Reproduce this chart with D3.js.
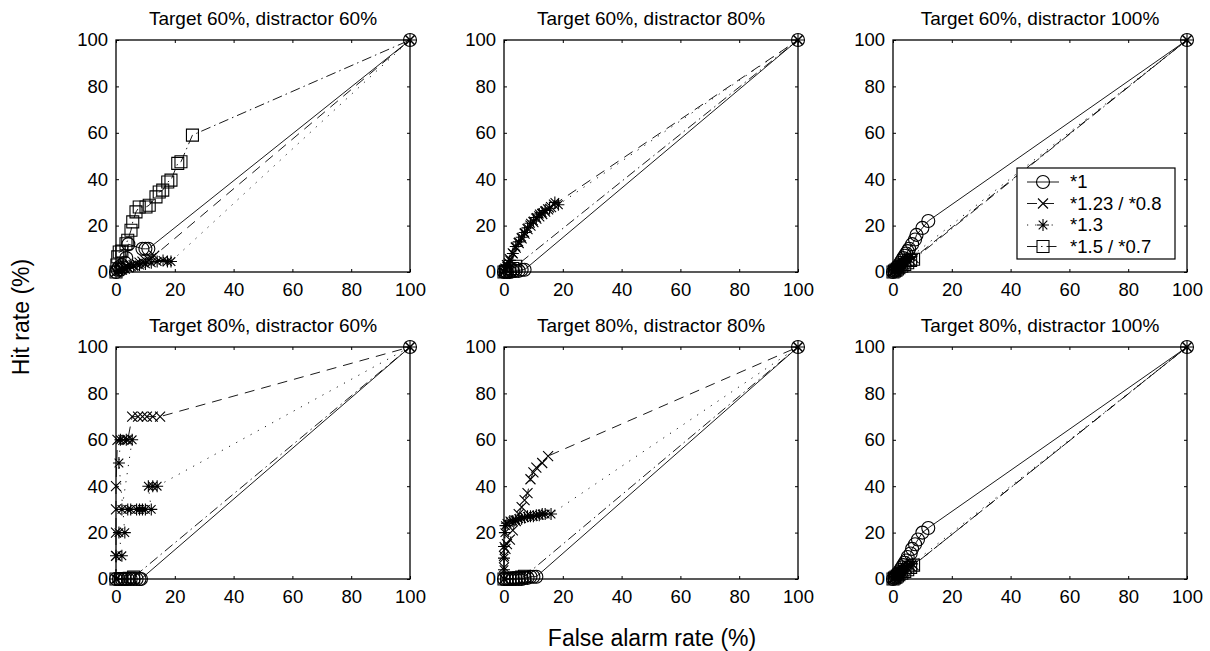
<!DOCTYPE html>
<html>
<head>
<meta charset="utf-8">
<script src="https://cdn.jsdelivr.net/npm/d3@7"></script>
<style>
  body { margin: 0; background: #fff; }
  svg { display: block; font-family: "Liberation Sans", Arial, Helvetica, sans-serif; }
</style>
</head>
<body>
<svg width="1210" height="651"></svg>
<script>
//panel titles, series names and ticks
var panelTitles = ["Target 60%, distractor 60%", "Target 60%, distractor 80%", "Target 60%, distractor 100%",
                   "Target 80%, distractor 60%", "Target 80%, distractor 80%", "Target 80%, distractor 100%"];
var seriesNames = ["*1", "*1.23 / *0.8", "*1.3", "*1.5 / *0.7"];
var axisTicks = [0, 20, 40, 60, 80, 100];

//each panel: [false alarm %, hit %] per series (circle, cross, star, square)
var t60d60_o = [[0,0],[0.5,1],[1,2],[1.5,1],[2,3],[2.5,2],[3,4],[3.5,6],[4.2,12],[9,10],[10,10],[11,10],[100,100]];
var t60d60_x = [[0,0],[1,0.5],[2,1],[3,1.5],[4,2],[5,2.5],[6,3],[7,3.5],[8,4],[9,4.5],[10,5],[11,5.5],[12,6],[13,7],[100,100]];
var t60d60_s = [[0,0],[1,0.5],[2,1],[3,1.5],[4,2],[6,2.5],[8,3],[10,3.5],[12,4],[14,4.5],[16,5],[17.5,4.5],[18.7,4.5],[100,100]];
var t60d60_q = [[0,0],[0.3,3],[0.6,6.5],[1.1,8.6],[2,9],[3.4,12.2],[4,13.7],[5.1,18],[5.7,21.6],[6.8,25.9],[7.9,28],
                [10.2,28],[11.3,28.8],[13.6,32.4],[14.7,34.5],[15.9,35.3],[17.6,38.8],[18.7,39.6],[21,46.8],[22.1,47.5],[26,59],[100,100]];

var t60d80_o = [[0,0],[1,0],[2,0],[3,0.3],[4,0.5],[5,0.5],[6,1],[7,1],[100,100]];
var t60d80_x = [[0,0],[0.5,1.5],[1,3],[2,5.5],[3,8],[4,10.5],[5,12.5],[6,14.5],[7,16.5],[8,18.5],[9,20],[10,21.5],
                [11,23],[12,24],[13,25],[14,26],[15,27],[16,28],[17,29],[100,100]];
var t60d80_s = [[0,0],[0.5,1],[1,2.5],[1.5,4],[2,5],[3,8],[4,11],[5,13],[6,15],[7,17],[8,19],[9,21],[10,22],[11,23.5],
                [12,25],[13,25.5],[14,26.5],[15.5,27.5],[17.3,30],[18.5,29],[100,100]];
var t60d80_q = [[0,0],[0.5,0.3],[1,0.5],[2,1],[3,1.5],[4,2.5],[100,100]];

var t60d100_o = [[0,0],[0.5,0.5],[1,1],[1.5,2],[2,3],[2.5,4],[3,5],[3.5,6],[4,7],[4.5,8],[5,9],[5.5,10],[6.5,12],[7.5,14],[8,16],[10,19],[12,22],[100,100]];
var t60d100_x = [[0,0],[0.5,0.5],[1,1],[1.5,1.5],[2,2],[2.5,2.5],[3,3],[3.5,3.5],[4,4],[5,4.5],[6,5],[7,6],[100,100]];
var t60d100_s = [[0,0],[0.5,0.5],[1,1],[1.5,1.5],[2,2],[2.5,3],[3,3.5],[3.5,4],[4,5],[4.5,5.5],[5,6],[6,6.5],[100,100]];
var t60d100_q = [[0,0],[0.5,0.4],[1,0.8],[1.5,1.3],[2,1.8],[3,2.5],[4,3.3],[5,4],[6,5],[7,5.5],[100,100]];

var t80d60_o = [[0,0],[1,0],[2,0],[3,0],[4,0],[5,0],[6,0],[7,0],[8,0],[8.5,0],[100,100]];
var t80d60_x = [[0,0],[0,10],[0,20],[0,30],[0,40],[0.5,60],[2.5,60],[4,60],[5.5,70],[7.5,70],[9,70],[10.5,70],[12.5,70],[15,70],[100,100]];
var t80d60_s = [[0,0],[0,10],[2,10],[1,20],[3,20],[1,50],[1.5,60],[3.5,60],[5.5,60],[2,30],[4,30],[5,30],[7,30],[8,30],
                [9,30],[10,30],[12,30],[11,40],[12.5,40],[14,40],[100,100]];
var t80d60_q = [[0,0],[1.5,0],[3,0],[4.5,0.3],[6,0.8],[100,100]];

var t80d80_o = [[0,0],[1,0],[2,0],[3,0],[4,0],[5,0],[6,0],[7,0.5],[8,0.5],[9,1],[10,1],[11,1],[100,100]];
var t80d80_x = [[0,0],[0,5],[0,10],[0.5,13],[1,15],[2,17],[3,21],[4,25],[5,28],[6,31],[7,34],[8,37],[9,43],[10,46],
                [11,48],[13,50],[15,53],[100,100]];
var t80d80_s = [[0,0],[0,4],[0,9],[0,14],[0.3,20],[0.5,23],[1,24],[2,25],[3,25],[4,25.5],[5,26],[6,26],[7,26.5],[8,27],
                [9,27],[10,27],[11,27.5],[12,27.5],[13,28],[14,28],[16,28],[100,100]];
var t80d80_q = [[0,0],[1,0],[2,0],[3,0.3],[4,0.5],[5,0.5],[6,0.8],[7,1.2],[100,100]];

var t80d100_o = [[0,0],[0.5,0.5],[1,1],[1.5,2],[2,3],[2.5,4],[3,5],[3.5,6],[4,7],[4.5,8],[5,9.5],[6,11],[6.5,13],[7.5,15],[8.5,17],[10,20],[12,22],[100,100]];
var t80d100_x = [[0,0],[0.5,0.5],[1,1],[1.5,1.5],[2,2],[2.5,2.5],[3,3],[3.5,3.5],[4,4],[5,4.5],[6,5.5],[7,6],[100,100]];
var t80d100_s = [[0,0],[0.5,0.5],[1,1],[1.5,1.5],[2,2],[2.5,3],[3,3.5],[3.5,4],[4,5],[4.5,5.5],[5,6],[6.5,6.5],[100,100]];
var t80d100_q = [[0,0],[0.5,0.4],[1,0.8],[1.5,1.3],[2,1.8],[3,2.5],[4,3.3],[5,4],[6,5],[7,6],[100,100]];

var panelData = [
  [t60d60_o, t60d60_x, t60d60_s, t60d60_q],
  [t60d80_o, t60d80_x, t60d80_s, t60d80_q],
  [t60d100_o, t60d100_x, t60d100_s, t60d100_q],
  [t80d60_o, t80d60_x, t80d60_s, t80d60_q],
  [t80d80_o, t80d80_x, t80d80_s, t80d80_q],
  [t80d100_o, t80d100_x, t80d100_s, t80d100_q]
];

//layout of the 2x3 grid
var panelLeft = [116, 504, 893],
    panelTop = [40, 347],
    width = 294,
    height = 232;

var lineDash = [null, "10,7", "1.2,7", "10,4,1.5,4"];
var markers = ["circle", "cross", "star", "square"];

function markerPath(type) {
  if (type == "circle") {
    var r = 6.5;
    return "M" + (-r) + ",0A" + r + "," + r + " 0 1,0 " + r + ",0A" + r + "," + r + " 0 1,0 " + (-r) + ",0";
  }
  if (type == "cross") {
    var c = 5;
    return "M" + (-c) + "," + (-c) + "L" + c + "," + c + "M" + (-c) + "," + c + "L" + c + "," + (-c);
  }
  if (type == "star") {
    var s = 6, a = 4.3;
    return "M" + (-s) + ",0H" + s + "M0," + (-s) + "V" + s +
           "M" + (-a) + "," + (-a) + "L" + a + "," + a + "M" + (-a) + "," + a + "L" + a + "," + (-a);
  }
  var q = 6;
  return "M" + (-q) + "," + (-q) + "H" + q + "V" + q + "H" + (-q) + "Z";
}

var svg = d3.select("svg");

var x = d3.scaleLinear().domain([0, 100]).range([0, width]);
var y = d3.scaleLinear().domain([0, 100]).range([height, 0]);

var line = d3.line()
  .x(function(d) { return x(d[0]); })
  .y(function(d) { return y(d[1]); });

panelData.forEach(function(series, p) {
  var g = svg.append("g")
    .attr("transform", "translate(" + panelLeft[p % 3] + "," + panelTop[Math.floor(p / 3)] + ")");

  //axes with inward ticks on all four sides
  var bottom = g.append("g")
    .attr("transform", "translate(0," + height + ")")
    .call(d3.axisBottom(x).tickValues(axisTicks).tickSize(-3).tickSizeOuter(0).tickPadding(11));
  var left = g.append("g")
    .call(d3.axisLeft(y).tickValues(axisTicks).tickSize(-3).tickSizeOuter(0).tickPadding(8));
  var top = g.append("g")
    .call(d3.axisTop(x).tickValues(axisTicks).tickSize(-3).tickSizeOuter(0).tickFormat(""));
  var right = g.append("g")
    .attr("transform", "translate(" + width + ",0)")
    .call(d3.axisRight(y).tickValues(axisTicks).tickSize(-3).tickSizeOuter(0).tickFormat(""));

  [bottom, left, top, right].forEach(function(a) {
    a.select(".domain").remove();
    a.attr("font-family", null).attr("font-size", null);
    a.selectAll("text").style("font-size", "18.5px").attr("fill", "#000");
  });

  g.append("rect")
    .attr("width", width)
    .attr("height", height)
    .attr("fill", "none")
    .attr("stroke", "#000")
    .attr("stroke-width", 1.3);

  //series lines then markers
  series.forEach(function(pts, i) {
    g.append("path")
      .datum(pts)
      .attr("d", line)
      .attr("fill", "none")
      .attr("stroke", "#000")
      .attr("stroke-width", 0.9)
      .attr("stroke-dasharray", lineDash[i]);

    //square marker is not drawn at the (100,100) end point
    var shown = markers[i] == "square" ? pts.slice(0, -1) : pts;
    g.selectAll(".m" + i)
      .data(shown)
      .enter().append("path")
      .attr("class", "m" + i)
      .attr("transform", function(d) { return "translate(" + x(d[0]) + "," + y(d[1]) + ")"; })
      .attr("d", markerPath(markers[i]))
      .attr("fill", "none")
      .attr("stroke", "#000")
      .attr("stroke-width", 1.1);
  });

  g.append("text")
    .attr("x", width / 2)
    .attr("y", -15)
    .attr("text-anchor", "middle")
    .style("font-size", "19px")
    .text(panelTitles[p]);

  //legend sits in the third panel
  if (p == 2) {
    var lg = g.append("g").attr("transform", "translate(124,128)");
    lg.append("rect")
      .attr("width", 158)
      .attr("height", 91)
      .attr("fill", "#fff")
      .attr("stroke", "#000")
      .attr("stroke-width", 1.2);
    var rows = lg.selectAll(".legend")
      .data(seriesNames)
      .enter().append("g")
      .attr("class", "legend")
      .attr("transform", function(d, i) { return "translate(0," + (14 + i * 21.5) + ")"; });
    rows.append("line")
      .attr("x1", 10).attr("x2", 42)
      .attr("stroke", "#000")
      .attr("stroke-width", 0.9)
      .attr("stroke-dasharray", function(d, i) { return lineDash[i]; });
    rows.append("path")
      .attr("transform", "translate(26,0)")
      .attr("d", function(d, i) { return markerPath(markers[i]); })
      .attr("fill", "none")
      .attr("stroke", "#000")
      .attr("stroke-width", 1.1);
    rows.append("text")
      .attr("x", 53)
      .attr("dy", "0.35em")
      .style("font-size", "18.5px")
      .text(function(d) { return d; });
  }
});

//shared axis labels
svg.append("text")
  .attr("x", 652)
  .attr("y", 646)
  .attr("text-anchor", "middle")
  .style("font-size", "23px")
  .text("False alarm rate (%)");

svg.append("text")
  .attr("transform", "translate(29,317) rotate(-90)")
  .attr("text-anchor", "middle")
  .style("font-size", "23px")
  .text("Hit rate (%)");
</script>
</body>
</html>
